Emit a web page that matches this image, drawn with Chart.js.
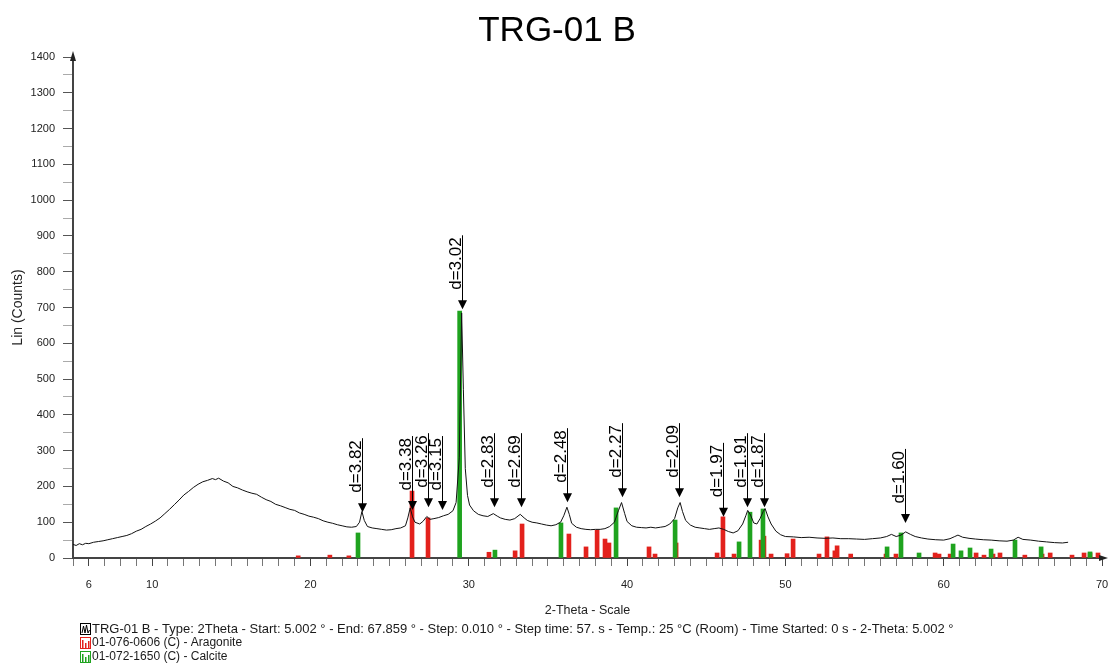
<!DOCTYPE html>
<html>
<head>
<meta charset="utf-8">
<title>TRG-01 B</title>
<script src="https://cdn.jsdelivr.net/npm/chart.js@4.4.1/dist/chart.umd.min.js"></script>
<style>
  html, body { margin: 0; padding: 0; background: #fff; }
  #wrap { width: 1113px; height: 669px; }
</style>
</head>
<body>
<div id="wrap"><canvas id="xrd" width="1113" height="669"></canvas></div>
<script>
const scanTheta = [
  5.0, 5.2, 5.4, 5.6, 5.8, 6.0, 6.3, 6.6, 6.9, 7.2,
  7.5, 7.8, 8.1, 8.4, 8.7, 9.0, 9.3, 9.6, 9.9, 10.2,
  10.5, 10.8, 11.1, 11.4, 11.7, 12.0, 12.3, 12.6, 12.9, 13.2,
  13.5, 13.8, 14.0, 14.2, 14.5, 14.8, 15.1, 15.4, 15.7, 16.0,
  16.3, 16.6, 16.9, 17.2, 17.5, 17.8, 18.1, 18.4, 18.7, 19.0,
  19.3, 19.6, 19.9, 20.2, 20.5, 20.8, 21.1, 21.4, 21.7, 22.0,
  22.3, 22.6, 22.9, 23.1, 23.25, 23.4, 23.6, 23.9, 24.2, 24.5,
  24.8, 25.1, 25.4, 25.7, 26.0, 26.15, 26.3, 26.45, 26.6, 26.9,
  27.1, 27.35, 27.55, 27.8, 28.1, 28.4, 28.7, 29.0, 29.2, 29.4,
  29.55, 29.66, 29.78, 29.92, 30.05, 30.3, 30.6, 30.9, 31.2, 31.55,
  31.8, 32.0, 32.3, 32.6, 32.9, 33.25, 33.5, 33.7, 34.0, 34.3,
  34.6, 34.9, 35.2, 35.5, 35.8, 36.0, 36.2, 36.35, 36.5, 36.8,
  37.1, 37.4, 37.7, 38.0, 38.3, 38.6, 38.9, 39.2, 39.45, 39.65,
  39.85, 40.0, 40.3, 40.6, 40.9, 41.2, 41.5, 41.8, 42.1, 42.4,
  42.7, 43.0, 43.2, 43.35, 43.5, 43.7, 44.0, 44.3, 44.6, 44.9,
  45.2, 45.5, 45.8, 46.1, 46.4, 46.7, 47.0, 47.3, 47.5, 47.62,
  47.8, 48.0, 48.2, 48.4, 48.6, 48.72, 48.9, 49.1, 49.4, 49.7,
  50.0, 50.5, 51.0, 51.5, 52.0, 52.5, 53.0, 53.5, 54.0, 54.5,
  55.0, 55.5, 56.0, 56.4, 56.7, 57.0, 57.3, 57.6, 57.9, 58.2,
  58.6, 59.0, 59.5, 60.0, 60.4, 60.7, 60.9, 61.2, 61.6, 62.0,
  62.5, 63.0, 63.5, 64.0, 64.4, 64.7, 65.0, 65.5, 66.0, 66.5,
  67.0, 67.5, 67.86
];
const scanCounts = [
  38, 35, 40, 37, 41, 40, 44, 46, 48, 51,
  54, 57, 60, 63, 68, 75, 80, 88, 95, 103,
  112, 124, 136, 149, 162, 176, 186, 197, 206, 213,
  217, 222, 219, 223, 215, 210, 200, 196, 190, 185,
  181, 178, 170, 163, 158, 150, 146, 141, 136, 133,
  126, 122, 117, 114, 110, 104, 100, 97, 93, 90,
  87, 86, 88, 100, 130, 105, 88, 84, 82, 80,
  78, 79, 82, 84, 90, 112, 140, 115, 100, 95,
  102, 116, 108, 110, 113, 118, 122, 132, 155, 280,
  685, 470, 250, 175, 148, 132, 122, 118, 116, 124,
  117, 112, 108, 106, 110, 122, 112, 105, 100, 98,
  95, 92, 90, 93, 100, 118, 142, 122, 97, 86,
  82, 80, 79, 80, 80, 82, 88, 100, 132, 155,
  124, 102, 90, 86, 85, 84, 86, 84, 86, 88,
  95, 110, 140, 155, 130, 105, 92, 86, 84, 82,
  80, 82, 84, 80, 74, 70, 76, 95, 118, 133,
  120, 98, 95, 110, 130, 138, 115, 95, 75, 65,
  60, 59, 57, 58, 56, 55, 56, 54, 54, 53,
  52, 54, 56, 60, 66, 60, 64, 73, 66, 60,
  56, 53, 51, 50, 54, 60, 64, 58, 55, 53,
  51, 50, 48, 47, 50, 58, 52, 50, 47, 45,
  43, 42, 44
];

// 01-076-0606 (C) - Aragonite stick pattern
const aragoniteTheta = [19.1, 21.1, 22.3, 26.29, 27.3, 31.15, 32.8, 33.24, 36.2, 37.28,
  37.98, 38.48, 38.73, 41.26, 41.64, 42.97, 45.56, 45.93, 46.63, 48.34,
  48.52, 48.97, 49.98, 50.36, 52.0, 52.5, 53.0, 53.14, 54.0, 56.23,
  56.86, 59.33, 59.58, 60.28, 61.92, 62.42, 62.99, 63.43, 65.0, 66.09,
  66.6, 67.98, 68.74, 69.12, 69.62];
const aragoniteCounts = [6, 8, 6, 187, 112, 16, 20, 95, 67, 31,
  78, 53, 42, 31, 11, 42, 14, 115, 11, 50,
  61, 11, 12, 53, 11, 59, 20, 34, 11, 11,
  11, 14, 11, 11, 14, 8, 11, 14, 8, 11,
  14, 8, 14, 14, 14];

// 01-072-1650 (C) - Calcite stick pattern
const calciteTheta = [23.13, 29.55, 31.78, 35.95, 39.43, 43.16, 47.2, 47.89, 48.71, 56.55,
  57.43, 58.57, 60.72, 61.22, 61.79, 63.12, 64.63, 66.28, 69.37];
const calciteCounts = [70, 690, 22, 98, 140, 106, 45, 128, 137, 31,
  70, 14, 39, 20, 28, 25, 50, 31, 17];

// d-spacing markers
const peakLabels = ["3.82", "3.38", "3.26", "3.15", "3.02", "2.83", "2.69", "2.48", "2.27", "2.09", "1.97", "1.91", "1.87", "1.60"];
const peakTheta = [23.28, 26.42, 27.4, 28.33, 29.55, 31.6, 33.28, 36.19, 39.67, 43.3, 46.04, 47.6, 48.68, 57.58];
const peakTip = [128, 134, 142, 134, 695, 142, 142, 156, 170, 170, 115, 142, 142, 98];

// axis labels
const xTickLabels = [6, 10, 20, 30, 40, 50, 60, 70];
const legendRows = [
  "TRG-01 B - Type: 2Theta - Start: 5.002 \u00b0 - End: 67.859 \u00b0 - Step: 0.010 \u00b0 - Step time: 57. s - Temp.: 25 \u00b0C (Room) - Time Started: 0 s - 2-Theta: 5.002 \u00b0",
  "01-076-0606 (C) - Aragonite",
  "01-072-1650 (C) - Calcite"
];
const legendColors = ["#000000", "#e3211c", "#1fa31f"];

const FONT = '"Liberation Sans", Arial, Helvetica, sans-serif';

// minor ticks every degree
const xMinorTicks = [];
for (let v = 5; v <= 70; v++) xMinorTicks.push(v);

function toPoints(xs, ys) {
  return xs.map((t, i) => ({ x: t, y: ys[i] }));
}

const decor = {
  id: 'xrdDecor',
  afterDatasetsDraw(chart) {
    const { ctx, scales: { x, y } } = chart;
    ctx.save();
    ctx.strokeStyle = '#000';
    ctx.fillStyle = '#000';
    ctx.lineWidth = 1;
    ctx.font = '17px ' + FONT;
    peakLabels.forEach((label, i) => {
      const px = Math.round(x.getPixelForValue(peakTheta[i])) + 0.5;
      const tip = y.getPixelForValue(peakTip[i]);
      const top = tip - 74;
      ctx.beginPath();
      ctx.moveTo(px, top);
      ctx.lineTo(px, tip - 8);
      ctx.stroke();
      ctx.beginPath();
      ctx.moveTo(px - 4.5, tip - 9);
      ctx.lineTo(px + 4.5, tip - 9);
      ctx.lineTo(px, tip);
      ctx.closePath();
      ctx.fill();
      ctx.save();
      ctx.translate(px - 2, top + 2);
      ctx.rotate(-Math.PI / 2);
      ctx.textAlign = 'right';
      ctx.textBaseline = 'alphabetic';
      ctx.fillText('d=' + label, 0, 0);
      ctx.restore();
    });
    ctx.restore();
  },
  afterDraw(chart) {
    const { ctx, chartArea } = chart;
    ctx.save();
    // title
    ctx.fillStyle = '#000';
    ctx.font = '35px ' + FONT;
    ctx.textAlign = 'center';
    ctx.textBaseline = 'middle';
    ctx.fillText('TRG-01 B', 557, 31);

    // axis arrow heads
    ctx.fillStyle = '#222';
    ctx.beginPath();
    ctx.moveTo(chartArea.left, chartArea.top - 6);
    ctx.lineTo(chartArea.left + 3, chartArea.top + 4);
    ctx.lineTo(chartArea.left - 3, chartArea.top + 4);
    ctx.closePath();
    ctx.fill();
    ctx.beginPath();
    ctx.moveTo(chartArea.right + 6, chartArea.bottom);
    ctx.lineTo(chartArea.right - 3, chartArea.bottom - 3);
    ctx.lineTo(chartArea.right - 3, chartArea.bottom + 3);
    ctx.closePath();
    ctx.fill();

    // legend rows
    ctx.textAlign = 'left';
    ctx.textBaseline = 'middle';
    legendRows.forEach((text, i) => {
      const yc = 629 + i * 14;
      const col = legendColors[i];
      ctx.fillStyle = '#fff';
      ctx.fillRect(80, yc - 6, 10, 12);
      ctx.strokeStyle = col;
      ctx.lineWidth = 1;
      ctx.strokeRect(80.5, yc - 5.5, 10, 11);
      if (i === 0) {
        ctx.beginPath();
        ctx.moveTo(82, yc + 4);
        ctx.lineTo(83.5, yc - 3);
        ctx.lineTo(85, yc + 4);
        ctx.lineTo(86.5, yc - 4);
        ctx.lineTo(88, yc + 4);
        ctx.lineTo(89.5, yc + 1);
        ctx.stroke();
      } else {
        ctx.fillStyle = col;
        ctx.fillRect(82, yc - 3, 1.5, 8);
        ctx.fillRect(85, yc, 1.5, 5);
        ctx.fillRect(88, yc - 2, 1.5, 7);
      }
      ctx.fillStyle = '#1a1a1a';
      ctx.font = (i === 0 ? '13px ' : '12px ') + FONT;
      ctx.fillText(text, 92, yc);
    });
    ctx.restore();
  }
};

new Chart(document.getElementById('xrd'), {
  type: 'line',
  data: {
    datasets: [
      {
        type: 'line',
        label: 'TRG-01 B',
        data: toPoints(scanTheta, scanCounts),
        borderColor: '#111',
        borderWidth: 1,
        pointRadius: 0,
        tension: 0,
        order: 0
      },
      {
        type: 'bar',
        label: 'Aragonite',
        data: toPoints(aragoniteTheta, aragoniteCounts),
        backgroundColor: '#e3211c',
        barThickness: 4,
        order: 2
      },
      {
        type: 'bar',
        label: 'Calcite',
        data: toPoints(calciteTheta, calciteCounts),
        backgroundColor: '#1fa31f',
        barThickness: 4,
        order: 1
      }
    ]
  },
  options: {
    responsive: false,
    animation: false,
    devicePixelRatio: 1,
    layout: { padding: { top: 57, right: 11, bottom: 51, left: 0 } },
    plugins: {
      legend: { display: false },
      tooltip: { enabled: false },
      title: { display: false }
    },
    scales: {
      x: {
        type: 'linear',
        min: 5,
        max: 70,
        offset: false,
        afterBuildTicks: (scale) => {
          scale.ticks = xMinorTicks.map(v => ({ value: v }));
        },
        afterFit: (scale) => {
          scale.height = 60;
          scale.paddingLeft = 0;
          scale.paddingRight = 0;
        },
        ticks: {
          autoSkip: false,
          maxRotation: 0,
          padding: 12,
          color: '#222',
          font: { size: 11, family: FONT },
          callback: (v) => xTickLabels.includes(v) ? String(v) : ''
        },
        grid: {
          drawOnChartArea: false,
          drawTicks: true,
          tickLength: 8,
          offset: false,
          tickColor: (c) => (c.tick && xTickLabels.includes(c.tick.value)) ? '#444' : '#777'
        },
        border: { display: true, color: '#444', width: 2 },
        title: {
          display: true,
          text: '2-Theta - Scale',
          color: '#222',
          font: { size: 12.5, family: FONT },
          padding: { top: 0, bottom: 0 }
        }
      },
      y: {
        min: 0,
        max: 1400,
        afterFit: (scale) => { scale.width = 73; },
        ticks: {
          stepSize: 50,
          autoSkip: false,
          padding: 8,
          color: '#222',
          font: { size: 11, family: FONT },
          callback: (v) => v % 100 === 0 ? String(v) : ''
        },
        grid: {
          drawOnChartArea: false,
          drawTicks: true,
          tickLength: 10,
          tickColor: (c) => (c.tick && c.tick.value % 100 === 0) ? '#555' : '#aaa'
        },
        border: { display: true, color: '#444', width: 2 },
        title: {
          display: true,
          text: 'Lin (Counts)',
          color: '#222',
          font: { size: 14, family: FONT },
          padding: { top: 10, bottom: 0 }
        }
      }
    }
  },
  plugins: [decor]
});
</script>
</body>
</html>
